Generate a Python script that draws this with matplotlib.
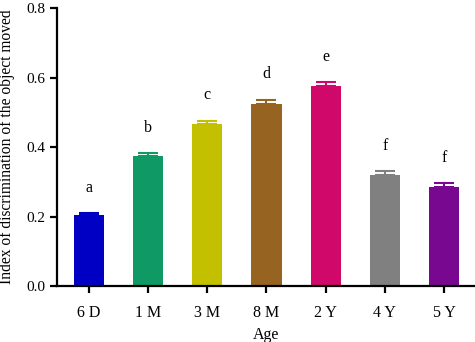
import matplotlib
matplotlib.use("Agg")
import matplotlib.pyplot as plt

categories = ["6 D", "1 M", "3 M", "8 M", "2 Y", "4 Y", "5 Y"]
values = [0.203, 0.373, 0.467, 0.525, 0.576, 0.320, 0.285]
errors = [0.007, 0.009, 0.009, 0.011, 0.010, 0.010, 0.011]
letters = ["a", "b", "c", "d", "e", "f", "f"]
colors = ["#0000C4", "#0F9964", "#C3C000", "#966420", "#D0086A", "#808080", "#78088F"]

plt.rcParams["font.family"] = ["Liberation Serif", "DejaVu Serif"]

fig = plt.figure(figsize=(4.75, 3.42), dpi=100)
ax = fig.add_axes([0.12, 0.1637, 0.88, 0.8129])

x = list(range(len(categories)))
ax.bar(x, values, width=0.51, color=colors, zorder=2)
for xi, v, e, c in zip(x, values, errors, colors):
    ax.errorbar([xi], [v], yerr=[[0], [e]], fmt="none", ecolor=c,
                elinewidth=1.5, capsize=7, capthick=1.5, zorder=3)
for xi, v, e, l in zip(x, values, errors, letters):
    ax.text(xi, v + e + 0.05, l, ha="center", va="bottom", fontsize=11.5)

ax.set_xlim(-0.54, 6.525)
ax.set_ylim(0, 0.8)
ax.set_yticks([0.0, 0.2, 0.4, 0.6, 0.8])
ax.set_yticklabels(["0.0", "0.2", "0.4", "0.6", "0.8"])
ax.set_xticks(x)
ax.set_xticklabels(categories)
ax.spines["top"].set_visible(False)
ax.spines["right"].set_visible(False)
for s in ["left", "bottom"]:
    ax.spines[s].set_linewidth(1.6)
ax.tick_params(axis="both", width=1.6, length=5, labelsize=11, direction="out")
ax.tick_params(axis="x", pad=9, labelsize=11.5)
ax.set_xlabel("Age", fontsize=11.5, labelpad=4)
ax.set_ylabel("Index of discrimination of the object moved", fontsize=11.2)
ax.yaxis.set_label_coords(-0.1, 0.5)

fig.savefig("out.png", dpi=100)
